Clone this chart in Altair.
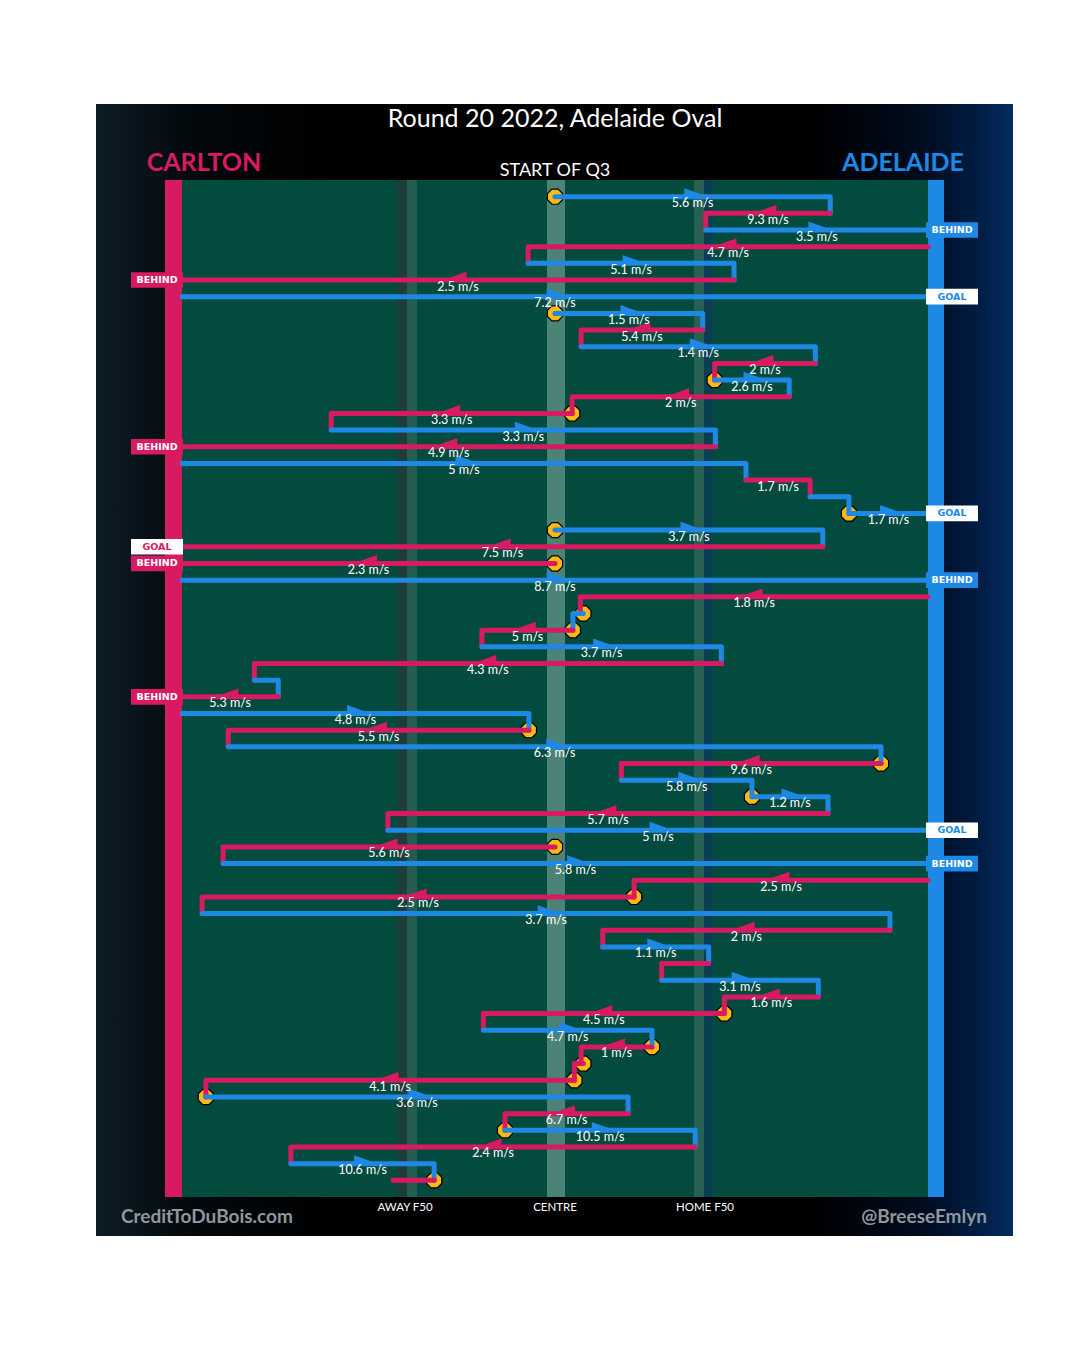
import altair as alt
import pandas as pd

PINK = "#D81B60"
BLUE = "#1E88E5"
GOLD = "#FDB913"
GREEN = "#034B3E"

# ---- data (field position 0 = Carlton goal line, 100 = Adelaide goal line) ----
teams = ["ADE", "CAR", "ADE", "CAR", "ADE", "CAR", "ADE", "ADE", "CAR", "ADE",
         "CAR", "ADE", "CAR", "CAR", "ADE", "CAR", "ADE", "CAR", "ADE", "ADE",
         "ADE", "CAR", "CAR", "ADE", "CAR", "ADE", "CAR", "ADE", "CAR", "ADE",
         "CAR", "ADE", "CAR", "ADE", "CAR", "ADE", "ADE", "CAR", "ADE", "CAR",
         "ADE", "CAR", "CAR", "ADE", "CAR", "ADE", "CAR", "ADE", "CAR", "CAR",
         "ADE", "CAR", "CAR", "CAR", "ADE", "CAR", "ADE", "CAR", "ADE", "CAR"]

starts = [50, 86.9, 70.2, 100, 46.4, 74.0, 0, 50, 69.8, 53.5,
          84.9, 71.4, 81.4, 52.3, 20.0, 71.5, 0, 75.6, 84.2, 89.4,
          50, 85.9, 50, 0, 100, 53.8, 52.4, 40.2, 72.3, 9.7,
          12.9, 0, 46.5, 6.2, 93.7, 58.9, 76.4, 86.6, 27.6, 50,
          5.5, 100, 60.6, 2.7, 94.9, 56.4, 70.6, 64.3, 85.3, 72.7,
          40.4, 63.0, 53.8, 52.6, 3.2, 59.8, 43.3, 68.8, 14.6, 33.8]

ends = [86.9, 70.2, 100, 46.4, 74.0, 0, 100, 69.8, 53.5, 84.9,
        71.4, 81.4, 52.3, 20.0, 71.5, 0, 75.6, 84.2, 89.4, 100,
        85.9, 0, 0, 100, 53.4, 52.4, 40.2, 72.3, 9.7, 12.9,
        0, 46.5, 6.2, 93.7, 58.9, 76.4, 86.6, 27.6, 100, 5.5,
        100, 60.6, 2.7, 94.9, 56.4, 70.6, 64.3, 85.3, 72.7, 40.4,
        63.0, 53.5, 52.6, 3.2, 59.8, 43.3, 68.8, 14.6, 33.8, 28.3]

speeds = [5.6, 9.3, 3.5, 4.7, 5.1, 2.5, 7.2, 1.5, 5.4, 1.4,
          2, 2.6, 2, 3.3, 3.3, 4.9, 5, 1.7, None, 1.7,
          3.7, 7.5, 2.3, 8.7, 1.8, None, 5, 3.7, 4.3, None,
          5.3, 4.8, 5.5, 6.3, 9.6, 5.8, 1.2, 5.7, 5, 5.6,
          5.8, 2.5, 2.5, 3.7, 2, 1.1, None, 3.1, 1.6, 4.5,
          4.7, 1, None, 4.1, 3.6, 6.7, 10.5, 2.4, 10.6, None]

outcomes = {3: "BEHIND", 6: "BEHIND", 7: "GOAL", 16: "BEHIND", 20: "GOAL",
            22: "GOAL", 23: "BEHIND", 24: "BEHIND", 31: "BEHIND", 39: "GOAL",
            41: "BEHIND"}

stoppages = [1, 8, 12, 14, 20, 21, 23, 26, 27, 33, 35, 37, 40, 43, 50, 52,
             53, 54, 55, 57, 60]

field_marks = ["AWAY F50", "CENTRE", "HOME F50"]
field_mark_pos = [29.9, 50, 70.1]

N = len(teams)
assert len(starts) == N and len(ends) == N and len(speeds) == N
team_col = {"CAR": PINK, "ADE": BLUE}

# ---- pixel helpers for decorative layout only ----
PX_X0, PX_PER_U = 182, 7.46
PX_Y0, PX_PER_ROW = 180, 16.672


def ux(px):
    return (px - PX_X0) / PX_PER_U


def ry(py):
    return (py - PX_Y0) / PX_PER_ROW


xs = alt.Scale(domain=[0, 100], nice=False, zero=False)
ys = alt.Scale(domain=[0, 61], reverse=True, nice=False, zero=False)
team_scale = alt.Scale(domain=["CAR", "ADE"], range=[PINK, BLUE])

# ---- build tables ----
path_rows = []
for i in range(N):
    r = i + 1
    path_rows.append(dict(seg=r, ord=0, x=starts[i], row=r, team=teams[i]))
    path_rows.append(dict(seg=r, ord=1, x=ends[i], row=r, team=teams[i]))
    if r < N and r not in outcomes:
        path_rows.append(dict(seg=r, ord=2, x=ends[i], row=r + 1, team=teams[i]))
path_df = pd.DataFrame(path_rows)

lab_rows, arr_rows = [], []
for i in range(N):
    r = i + 1
    mid = (starts[i] + ends[i]) / 2
    if speeds[i] is not None:
        lab_rows.append(dict(x=mid, row=r, text=f"{speeds[i]:g} m/s"))
        if abs(ends[i] - starts[i]) > 9:
            arr_rows.append(dict(x=mid, row=r, team=teams[i],
                                 dir="R" if ends[i] > starts[i] else "L"))
lab_df = pd.DataFrame(lab_rows)
arr_df = pd.DataFrame(arr_rows)

dot_df = pd.DataFrame([dict(x=starts[r - 1], row=r) for r in stoppages])

box_rows = []
for r, kind in outcomes.items():
    t = teams[r - 1]
    left = ends[r - 1] < 50
    x0, x1 = (ux(131), ux(183)) if left else (ux(926), ux(978))
    box_rows.append(dict(x=x0, x2=x1, y=r - 0.47, y2=r + 0.47, row=r,
                         xm=(x0 + x1) / 2, text=kind,
                         fill=team_col[t] if kind == "BEHIND" else "white",
                         tcol="white" if kind == "BEHIND" else team_col[t]))
box_df = pd.DataFrame(box_rows)

rect_df = pd.DataFrame([
    dict(x=0, x2=100, y=0, y2=61, fill=GREEN),
    dict(x=ux(397), x2=ux(407), y=0, y2=61, fill="#1C3E36"),
    dict(x=ux(407), x2=ux(417), y=0, y2=61, fill="#245D51"),
    dict(x=ux(547), x2=ux(565), y=0, y2=61, fill="#4C8377"),
    dict(x=ux(694), x2=ux(704), y=0, y2=61, fill="#286154"),
    dict(x=ux(704), x2=ux(713), y=0, y2=61, fill="#0A3F52"),
    dict(x=ux(165), x2=0, y=0, y2=61, fill=PINK),
    dict(x=100, x2=ux(944), y=0, y2=61, fill=BLUE),
])

frame_df = pd.DataFrame([dict(x=ux(96), x2=ux(1013), y=ry(104), y2=ry(1236))])

grad = alt.LinearGradient(
    gradient="linear", x1=0, x2=1, y1=0, y2=0,
    stops=[alt.GradientStop(offset=0, color="#0d1c25"),
           alt.GradientStop(offset=0.1, color="#03090d"),
           alt.GradientStop(offset=0.25, color="#000000"),
           alt.GradientStop(offset=0.78, color="#000000"),
           alt.GradientStop(offset=0.9, color="#000c1e"),
           alt.GradientStop(offset=0.96, color="#001c42"),
           alt.GradientStop(offset=1, color="#032d60")])

X = lambda f="x": alt.X(f"{f}:Q", scale=xs, axis=None)
Y = lambda f="row": alt.Y(f"{f}:Q", scale=ys, axis=None)

frame = alt.Chart(frame_df).mark_rect(color=grad).encode(
    x=X(), x2="x2:Q", y=Y("y"), y2="y2:Q")

rects = alt.Chart(rect_df).mark_rect().encode(
    x=X(), x2="x2:Q", y=Y("y"), y2="y2:Q",
    color=alt.Color("fill:N", scale=None))

dots = alt.Chart(dot_df).mark_point(
    shape="M -0.41 -1 L 0.41 -1 L 1 -0.41 L 1 0.41 L 0.41 1 L -0.41 1 L -1 0.41 L -1 -0.41 Z",
    size=230, filled=True, color=GOLD, stroke="black", strokeWidth=1.2, opacity=1
).encode(x=X(), y=Y())

lines = alt.Chart(path_df).mark_line(
    strokeWidth=5, strokeCap="round", strokeJoin="round"
).encode(x=X(), y=Y(), detail="seg:N", order="ord:Q",
         color=alt.Color("team:N", scale=team_scale, legend=None))

R_PATH = "M -1.05 -1.05 L 1.05 -0.3 L 1.05 0 L -1.05 0 Z"
L_PATH = "M 1.05 -1.05 L -1.05 -0.3 L -1.05 0 L 1.05 0 Z"
arrows = alt.Chart(arr_df).mark_point(
    size=256, filled=True, strokeWidth=0, opacity=1
).encode(x=X(), y=Y(),
         shape=alt.Shape("dir:N", scale=alt.Scale(domain=["R", "L"], range=[R_PATH, L_PATH]), legend=None),
         color=alt.Color("team:N", scale=team_scale, legend=None))

labels = alt.Chart(lab_df).mark_text(
    color="white", font="Lato", fontSize=12.5, dy=6.5, baseline="middle"
).encode(x=X(), y=Y(), text="text:N")

boxes = alt.Chart(box_df).mark_rect().encode(
    x=X(), x2="x2:Q", y=Y("y"), y2="y2:Q",
    color=alt.Color("fill:N", scale=None))

box_text = alt.Chart(box_df).mark_text(
    font="DejaVu Sans", fontSize=9.5, fontWeight="bold", baseline="middle"
).encode(x=X("xm"), y=Y(), text="text:N", color=alt.Color("tcol:N", scale=None))


def txt(df, **kw):
    return alt.Chart(pd.DataFrame(df)).mark_text(baseline="middle", **kw).encode(
        x=X(), y=Y(), text="text:N")


title = txt([dict(x=50, row=ry(119), text="Round 20 2022, Adelaide Oval")],
            color="white", font="Lato", fontSize=25)
carlton = txt([dict(x=ux(204), row=ry(163), text="CARLTON")],
              color=PINK, font="Lato", fontSize=25, fontWeight="bold")
adelaide = txt([dict(x=ux(903), row=ry(163), text="ADELAIDE")],
               color=BLUE, font="Lato", fontSize=25, fontWeight="bold")
startq = txt([dict(x=50, row=ry(171), text="START OF Q3")],
             color="white", font="Lato", fontSize=18)
fmarks = txt([dict(x=p, row=ry(1208), text=t) for p, t in zip(field_mark_pos, field_marks)],
             color="white", font="Lato", fontSize=11.5)
credit = txt([dict(x=ux(121), row=ry(1217), text="CreditToDuBois.com")],
             color="#8E989C", font="Lato", fontSize=19, fontWeight="bold", align="left")
handle = txt([dict(x=ux(987), row=ry(1217), text="@BreeseEmlyn")],
             color="#8E989C", font="Lato", fontSize=19, fontWeight="bold", align="right")

chart = alt.layer(
    frame, rects, dots, lines, arrows, labels, boxes, box_text,
    title, carlton, adelaide, startq, fmarks, credit, handle
).properties(
    width=746, height=1017,
    autosize=alt.AutoSizeParams(type="none"),
    padding={"left": 174, "top": 172, "right": 110, "bottom": 70},
    background="white",
).configure_view(stroke=None)

chart.save("out.html", embed_options={"renderer": "svg", "actions": False})
